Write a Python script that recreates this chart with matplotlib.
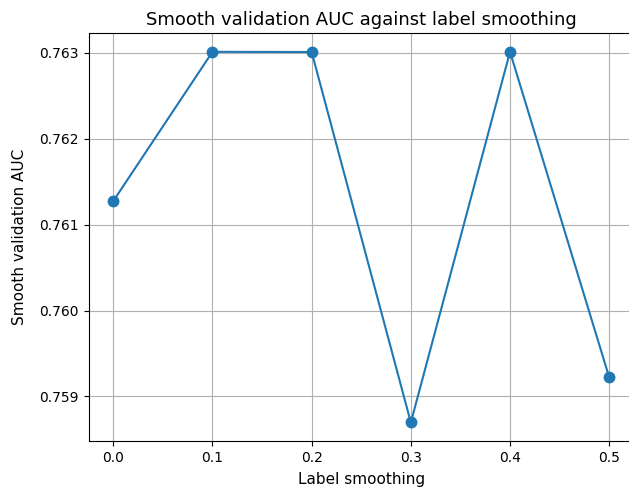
import matplotlib
matplotlib.use("Agg")
import matplotlib.pyplot as plt

label_smoothing = [0.0, 0.1, 0.2, 0.3, 0.4, 0.5]
auc = [0.761275, 0.763012, 0.763010, 0.758697, 0.763012, 0.759222]

fig = plt.figure(figsize=(6.29, 4.94), dpi=100)
left, right, top, bottom = 88.5, 634.0, 33.3, 441.0
ax = fig.add_axes([left/629, 1-bottom/494, (right-left)/629, (bottom-top)/494])
ax.plot(label_smoothing, auc, marker='o', markersize=7.5)
ax.grid(True)
ax.set_xlabel("Label smoothing", fontsize=11, labelpad=5)
ax.set_ylabel("Smooth validation AUC", fontsize=11, labelpad=8.5)
ax.set_title("Smooth validation AUC against label smoothing", fontsize=13)
fig.savefig("out.png", dpi=100)
